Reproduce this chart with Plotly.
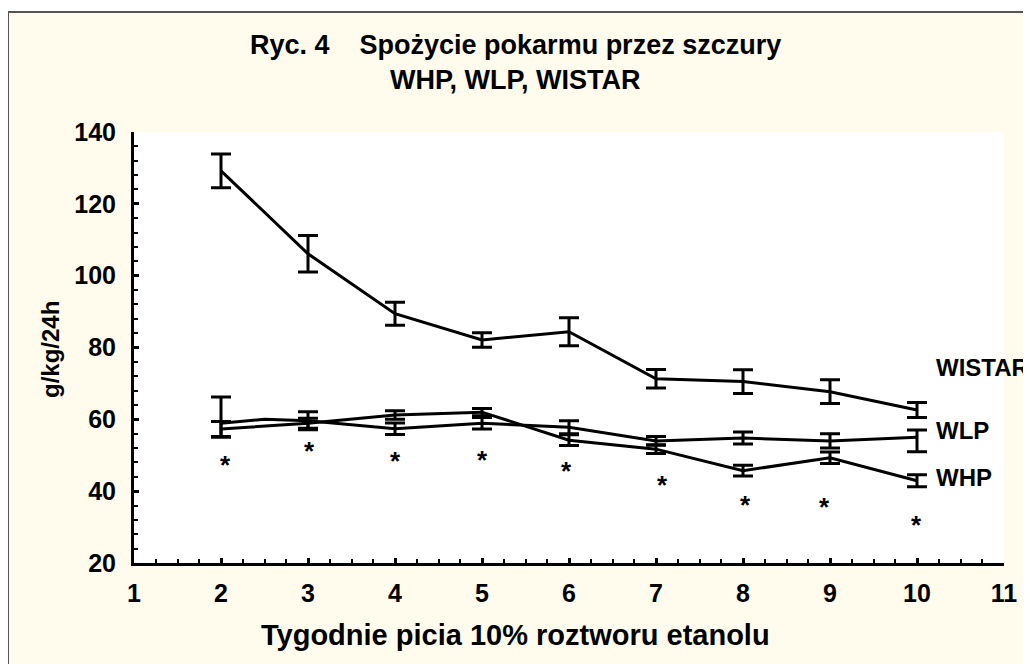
import plotly.graph_objects as go

weeks = [2, 3, 4, 5, 6, 7, 8, 9, 10]

wistar = [129.2, 106.1, 89.4, 82.1, 84.4, 71.3, 70.5, 67.7, 62.6]
wistar_err = [4.7, 5.1, 3.2, 2.0, 3.9, 2.6, 3.3, 3.3, 2.1]

whp = [57.3, 58.9, 61.2, 62.0, 54.2, 51.7, 45.7, 49.3, 42.9]
whp_err = [2.1, 1.4, 1.2, 1.0, 1.5, 1.2, 1.5, 1.6, 1.7]

wlp_line_x = [2, 2.5, 3, 4, 5, 6, 7, 8, 9, 10]
wlp_line = [58.9, 60.0, 59.6, 57.4, 58.9, 57.8, 54.0, 54.8, 54.0, 55.0]
wlp = [58.9, 59.6, 57.4, 58.9, 57.8, 54.0, 54.8, 54.0, 55.0]
wlp_err_plus = [7.3, 2.5, 1.6, 1.6, 1.8, 1.2, 1.65, 2.0, 2.0]
wlp_err_minus = [3.9, 2.5, 1.6, 1.6, 1.8, 1.2, 1.65, 2.0, 4.0]

star_x = [2.05, 3.02, 4.01, 5.0, 5.97, 7.08, 8.03, 8.94, 9.99]
star_y = [48.9, 52.9, 50.1, 50.4, 47.2, 43.5, 37.8, 37.4, 32.2]

series_labels = ["WISTAR", "WLP", "WHP"]
label_x = [10.2, 10.2, 10.2]
label_y = [74.3, 56.9, 43.7]

title_lines = ["Ryc. 4\u00a0\u00a0\u00a0\u00a0Spożycie pokarmu przez szczury", "WHP, WLP, WISTAR"]
x_title = "Tygodnie picia 10% roztworu etanolu"
y_title = "g/kg/24h"

FONT = "Liberation Sans, Arial, sans-serif"
OFF = 8  # page body margin
W, H = 1031, 664
L, T = 134 - OFF, 132 - OFF
R = W - (1004 - OFF)
B = H - (563 - OFF)
pw, ph = W - L - R, H - T - B


def px(xs):
    """screen x -> paper x"""
    return (xs - OFF - L) / pw


def py(ys):
    """screen y -> paper y"""
    return (H - B - (ys - OFF)) / ph


fig = go.Figure()

err_style = dict(thickness=3, width=10, color="black")

fig.add_trace(go.Scatter(
    x=weeks, y=wistar, mode="lines",
    line=dict(color="black", width=3),
    error_y=dict(type="data", array=wistar_err, **err_style),
    showlegend=False, hoverinfo="skip"))

fig.add_trace(go.Scatter(
    x=weeks, y=whp, mode="lines",
    line=dict(color="black", width=3),
    error_y=dict(type="data", array=whp_err, **err_style),
    showlegend=False, hoverinfo="skip"))

fig.add_trace(go.Scatter(
    x=wlp_line_x, y=wlp_line, mode="lines",
    line=dict(color="black", width=3),
    showlegend=False, hoverinfo="skip"))

fig.add_trace(go.Scatter(
    x=weeks, y=wlp, mode="markers",
    marker=dict(size=1, color="black", opacity=0),
    error_y=dict(type="data", symmetric=False, array=wlp_err_plus,
                 arrayminus=wlp_err_minus, **err_style),
    showlegend=False, hoverinfo="skip"))

annotations = []
for sx, sy in zip(star_x, star_y):
    annotations.append(dict(x=sx, y=sy, text="<b>*</b>", showarrow=False,
                            xanchor="center", yanchor="middle", yshift=-6,
                            font=dict(family=FONT, size=26, color="black")))
for t, lx, ly in zip(series_labels, label_x, label_y):
    annotations.append(dict(x=lx, y=ly, text="<b>%s</b>" % t, showarrow=False,
                            xanchor="left", yanchor="middle",
                            font=dict(family=FONT, size=24, color="black")))
for t, yy in zip(title_lines, [45, 80]):
    annotations.append(dict(xref="paper", yref="paper", x=px(515.5), y=py(yy),
                            text="<b>%s</b>" % t, showarrow=False,
                            xanchor="center", yanchor="middle",
                            font=dict(family=FONT, size=27, color="black")))
annotations.append(dict(xref="paper", yref="paper", x=px(515), y=py(635),
                        text="<b>%s</b>" % x_title, showarrow=False,
                        xanchor="center", yanchor="middle",
                        font=dict(family=FONT, size=29, color="black")))
annotations.append(dict(xref="paper", yref="paper", x=px(50), y=py(350),
                        text="<b>%s</b>" % y_title, showarrow=False, textangle=-90,
                        xanchor="center", yanchor="middle",
                        font=dict(family=FONT, size=24, color="black")))

cream = "#FFFCEE"
shapes = [
    dict(type="rect", xref="paper", yref="paper", x0=px(0), x1=px(W + 20),
         y0=py(12), y1=py(0), fillcolor="white", line=dict(width=0), layer="below"),
    dict(type="rect", xref="paper", yref="paper", x0=px(8), x1=px(W + 20),
         y0=py(H + 20), y1=py(12), fillcolor="rgba(0,0,0,0)",
         line=dict(width=2, color="#555555"), layer="above"),
]

tickfont = dict(family=FONT, size=25, color="black")
fig.update_layout(
    width=W, height=H,
    margin=dict(l=L, r=R, t=T, b=B),
    paper_bgcolor=cream, plot_bgcolor="white",
    annotations=annotations, shapes=shapes,
    xaxis=dict(range=[1, 11], tickmode="linear", tick0=1, dtick=1,
               ticks="inside", ticklen=5, tickwidth=3, tickcolor="black",
               minor=dict(dtick=0.25, ticks="inside", ticklen=4, tickwidth=2, tickcolor="black"),
               showline=True, linecolor="black", linewidth=3, showgrid=False, zeroline=False,
               tickfont=tickfont, ticklabelstandoff=6, tickprefix="<b>", ticksuffix="</b>"),
    yaxis=dict(range=[20, 140], tickmode="linear", tick0=20, dtick=20,
               ticks="inside", ticklen=5, tickwidth=3, tickcolor="black",
               minor=dict(dtick=4, ticks="inside", ticklen=4, tickwidth=2, tickcolor="black"),
               showline=True, linecolor="black", linewidth=3, showgrid=False, zeroline=False,
               tickfont=tickfont, ticklabelstandoff=10, tickprefix="<b>", ticksuffix="</b>"),
)

fig.write_html("out.html")
